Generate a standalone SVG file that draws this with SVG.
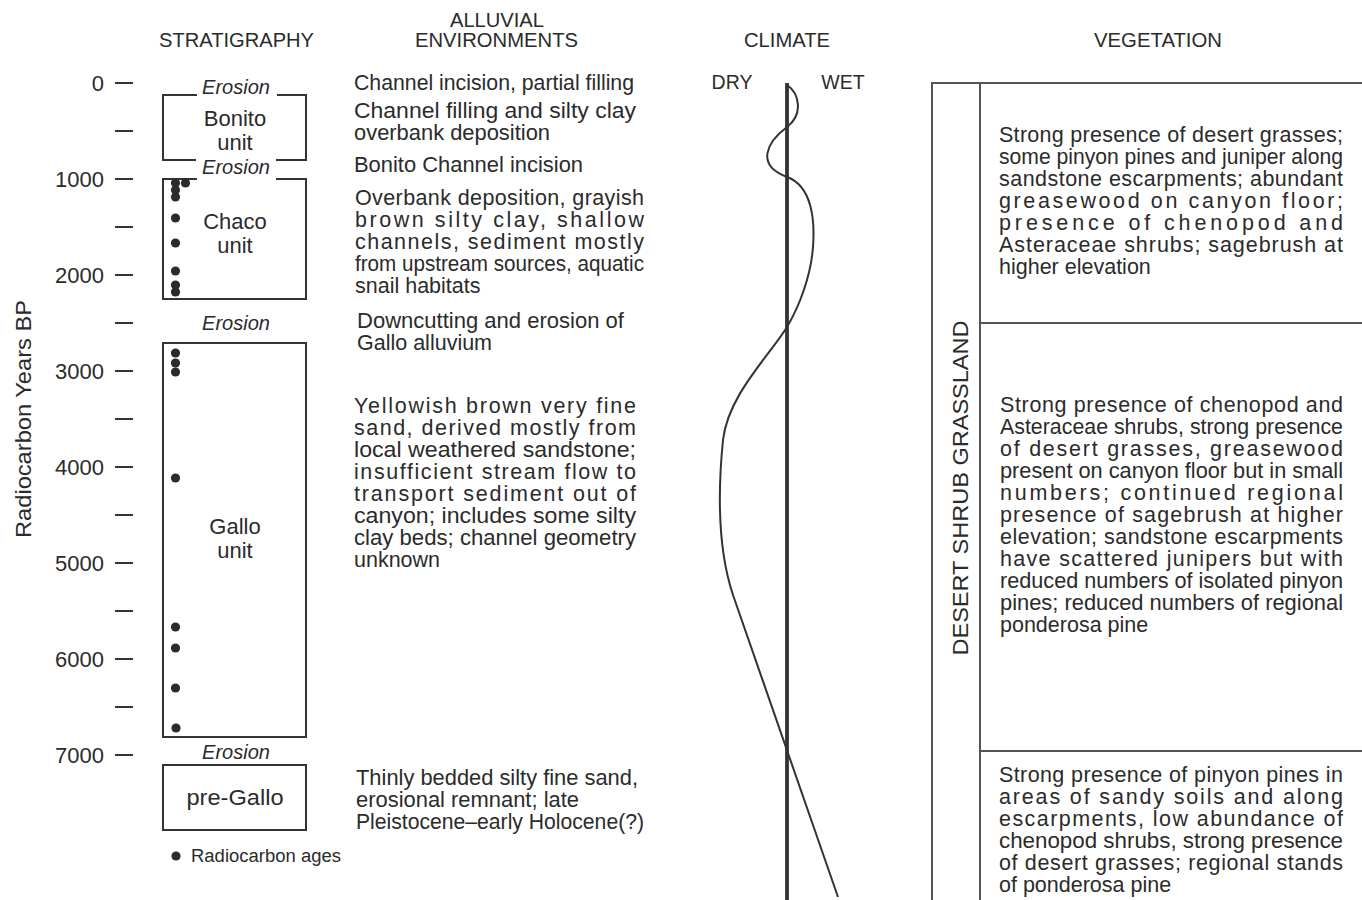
<svg xmlns="http://www.w3.org/2000/svg" width="1362" height="900" viewBox="0 0 1362 900">
<style>
text{font-family:"Liberation Sans",Arial,sans-serif;fill:#2b2b2b}
.hd{font-size:19.5px;text-anchor:middle}
.num{font-size:22px;text-anchor:end}
.body{font-size:21.5px}
.unit{font-size:22px;text-anchor:middle}
.ero{font-size:19.5px;font-style:italic;text-anchor:middle}
.ln{stroke:#333;stroke-width:2;fill:none}
.grid{stroke:#555;stroke-width:2;fill:none}
.dot{fill:#2b2b2b}
</style>
<rect width="1362" height="900" fill="#fff"/>

<g id="headers">
<text class="hd" x="236.5" y="47" textLength="155" lengthAdjust="spacingAndGlyphs">STRATIGRAPHY</text>
<text class="hd" x="497" y="27" textLength="94" lengthAdjust="spacingAndGlyphs">ALLUVIAL</text>
<text class="hd" x="496.5" y="47" textLength="163" lengthAdjust="spacingAndGlyphs">ENVIRONMENTS</text>
<text class="hd" x="787" y="47" textLength="86" lengthAdjust="spacingAndGlyphs">CLIMATE</text>
<text class="hd" x="1158" y="47" textLength="128" lengthAdjust="spacingAndGlyphs">VEGETATION</text>
</g>

<g id="axis">
<text x="31" y="419" transform="rotate(-90 31 419)" style="font-size:22px;text-anchor:middle" textLength="238" lengthAdjust="spacingAndGlyphs">Radiocarbon Years BP</text>
<g class="ln">
<line x1="115" y1="83" x2="133" y2="83"/>
<line x1="115" y1="131" x2="133" y2="131"/>
<line x1="115" y1="179" x2="133" y2="179"/>
<line x1="115" y1="227" x2="133" y2="227"/>
<line x1="115" y1="275" x2="133" y2="275"/>
<line x1="115" y1="323" x2="133" y2="323"/>
<line x1="115" y1="371" x2="133" y2="371"/>
<line x1="115" y1="419" x2="133" y2="419"/>
<line x1="115" y1="467" x2="133" y2="467"/>
<line x1="115" y1="515" x2="133" y2="515"/>
<line x1="115" y1="563" x2="133" y2="563"/>
<line x1="115" y1="611" x2="133" y2="611"/>
<line x1="115" y1="659" x2="133" y2="659"/>
<line x1="115" y1="707" x2="133" y2="707"/>
<line x1="115" y1="755" x2="133" y2="755"/>
</g>
<text class="num" x="104" y="91">0</text>
<text class="num" x="104" y="187">1000</text>
<text class="num" x="104" y="283">2000</text>
<text class="num" x="104" y="379">3000</text>
<text class="num" x="104" y="475">4000</text>
<text class="num" x="104" y="571">5000</text>
<text class="num" x="104" y="667">6000</text>
<text class="num" x="104" y="763">7000</text>
</g>

<g id="bonito">
<path class="ln" d="M197 95 H163 V160 H196 M276 160 H306 V95 H277"/>
<text class="ero" x="236" y="94" textLength="68" lengthAdjust="spacingAndGlyphs">Erosion</text>
<text class="unit" x="235" y="126">Bonito</text>
<text class="unit" x="235" y="150">unit</text>
</g>

<g id="chaco">
<text class="ero" x="236" y="174" textLength="68" lengthAdjust="spacingAndGlyphs">Erosion</text>
<path class="ln" d="M197 179 H163 V299 H306 V179 H276"/>
<text class="unit" x="235" y="229">Chaco</text>
<text class="unit" x="235" y="253">unit</text>
<g class="dot">
<circle cx="175.5" cy="183" r="4.6"/>
<circle cx="185.5" cy="183" r="4.6"/>
<circle cx="175.5" cy="190" r="4.6"/>
<circle cx="175.5" cy="197" r="4.6"/>
<circle cx="175.5" cy="218" r="4.6"/>
<circle cx="175.5" cy="243" r="4.6"/>
<circle cx="175.5" cy="271" r="4.6"/>
<circle cx="175.5" cy="285" r="4.6"/>
<circle cx="175.5" cy="292" r="4.6"/>
</g>
</g>

<g id="gallo">
<text class="ero" x="236" y="330" textLength="68" lengthAdjust="spacingAndGlyphs">Erosion</text>
<rect class="ln" x="163" y="343" width="143" height="394"/>
<text class="unit" x="235" y="534">Gallo</text>
<text class="unit" x="235" y="558">unit</text>
<g class="dot">
<circle cx="175.5" cy="353" r="4.6"/>
<circle cx="175.5" cy="363" r="4.6"/>
<circle cx="175.5" cy="372" r="4.6"/>
<circle cx="175.5" cy="478" r="4.6"/>
<circle cx="175.5" cy="627" r="4.6"/>
<circle cx="175.5" cy="648" r="4.6"/>
<circle cx="175.5" cy="688" r="4.6"/>
<circle cx="176" cy="728" r="4.6"/>
</g>
</g>

<g id="pregallo">
<text class="ero" x="236" y="759" textLength="68" lengthAdjust="spacingAndGlyphs">Erosion</text>
<rect class="ln" x="163" y="765" width="143" height="65"/>
<text class="unit" x="235" y="805" textLength="97" lengthAdjust="spacingAndGlyphs">pre-Gallo</text>
</g>

<g id="legend">
<circle class="dot" cx="176" cy="856" r="4.6"/>
<text x="191" y="862" style="font-size:18px" textLength="150" lengthAdjust="spacingAndGlyphs">Radiocarbon ages</text>
</g>

<g id="alluvial" class="body">
<text class="body" x="354" y="90" textLength="280" lengthAdjust="spacingAndGlyphs">Channel incision, partial filling</text>
<text class="body" x="354" y="118" textLength="282" lengthAdjust="spacingAndGlyphs">Channel filling and silty clay</text>
<text class="body" x="354" y="140" textLength="196" lengthAdjust="spacingAndGlyphs">overbank deposition</text>
<text class="body" x="354" y="172" textLength="229" lengthAdjust="spacingAndGlyphs">Bonito Channel incision</text>
<text class="body" x="355" y="205" textLength="289" lengthAdjust="spacing">Overbank deposition, grayish</text>
<text class="body" x="355" y="227" textLength="289" lengthAdjust="spacing">brown silty clay, shallow</text>
<text class="body" x="355" y="249" textLength="289" lengthAdjust="spacing">channels, sediment mostly</text>
<text class="body" x="355" y="271" textLength="289" lengthAdjust="spacingAndGlyphs">from upstream sources, aquatic</text>
<text class="body" x="355" y="293">snail habitats</text>
<text class="body" x="357" y="328" textLength="267" lengthAdjust="spacingAndGlyphs">Downcutting and erosion of</text>
<text class="body" x="357" y="350">Gallo alluvium</text>
<text class="body" x="354" y="413" textLength="282" lengthAdjust="spacing">Yellowish brown very fine</text>
<text class="body" x="354" y="435" textLength="282" lengthAdjust="spacing">sand, derived mostly from</text>
<text class="body" x="354" y="457" textLength="282" lengthAdjust="spacingAndGlyphs">local weathered sandstone;</text>
<text class="body" x="354" y="479" textLength="282" lengthAdjust="spacing">insufficient stream flow to</text>
<text class="body" x="354" y="501" textLength="282" lengthAdjust="spacing">transport sediment out of</text>
<text class="body" x="354" y="523" textLength="282" lengthAdjust="spacingAndGlyphs">canyon; includes some silty</text>
<text class="body" x="354" y="545" textLength="282" lengthAdjust="spacingAndGlyphs">clay beds; channel geometry</text>
<text class="body" x="354" y="567">unknown</text>
<text class="body" x="356" y="785" textLength="282" lengthAdjust="spacingAndGlyphs">Thinly bedded silty fine sand,</text>
<text class="body" x="356" y="807" textLength="223" lengthAdjust="spacingAndGlyphs">erosional remnant; late</text>
<text class="body" x="356" y="829" textLength="288" lengthAdjust="spacingAndGlyphs">Pleistocene–early Holocene(?)</text>
</g>

<g id="climate">
<text class="hd" x="732" y="89">DRY</text>
<text class="hd" x="843" y="89">WET</text>
<line x1="787" y1="83" x2="787" y2="900" stroke="#333" stroke-width="3.8"/>
<path class="ln" d="M787 85 C799 93 804 114 787 127 C767 142 755 165 787 177 C812 186 815 220 813 247 C811 275 800 305 787 327 C770 355 728 395 723 440 C718 490 718 550 733 595 L838 897"/>
</g>

<g id="vegetation">
<path class="grid" d="M932 900 V83 H1362 M980 83 V900 M980 323 H1362 M980 751 H1362"/>
<text x="968" y="488" transform="rotate(-90 968 488)" style="font-size:22px;text-anchor:middle" textLength="335" lengthAdjust="spacingAndGlyphs">DESERT SHRUB GRASSLAND</text>
<g id="veg1">
<text class="body" x="999" y="142" textLength="344" lengthAdjust="spacing">Strong presence of desert grasses;</text>
<text class="body" x="999" y="164" textLength="344" lengthAdjust="spacingAndGlyphs">some pinyon pines and juniper along</text>
<text class="body" x="999" y="186" textLength="344" lengthAdjust="spacing">sandstone escarpments; abundant</text>
<text class="body" x="999" y="208" textLength="344" lengthAdjust="spacing">greasewood on canyon floor;</text>
<text class="body" x="999" y="230" textLength="344" lengthAdjust="spacing">presence of chenopod and</text>
<text class="body" x="999" y="252" textLength="344" lengthAdjust="spacing">Asteraceae shrubs; sagebrush at</text>
<text class="body" x="999" y="274">higher elevation</text>
</g>
<g id="veg2">
<text class="body" x="1000" y="412" textLength="343" lengthAdjust="spacing">Strong presence of chenopod and</text>
<text class="body" x="1000" y="434" textLength="343" lengthAdjust="spacingAndGlyphs">Asteraceae shrubs, strong presence</text>
<text class="body" x="1000" y="456" textLength="343" lengthAdjust="spacing">of desert grasses, greasewood</text>
<text class="body" x="1000" y="478" textLength="343" lengthAdjust="spacingAndGlyphs">present on canyon floor but in small</text>
<text class="body" x="1000" y="500" textLength="343" lengthAdjust="spacing">numbers; continued regional</text>
<text class="body" x="1000" y="522" textLength="343" lengthAdjust="spacing">presence of sagebrush at higher</text>
<text class="body" x="1000" y="544" textLength="343" lengthAdjust="spacing">elevation; sandstone escarpments</text>
<text class="body" x="1000" y="566" textLength="343" lengthAdjust="spacing">have scattered junipers but with</text>
<text class="body" x="1000" y="588" textLength="343" lengthAdjust="spacingAndGlyphs">reduced numbers of isolated pinyon</text>
<text class="body" x="1000" y="610" textLength="343" lengthAdjust="spacingAndGlyphs">pines; reduced numbers of regional</text>
<text class="body" x="1000" y="632">ponderosa pine</text>
</g>
<g id="veg3">
<text class="body" x="999" y="782" textLength="344" lengthAdjust="spacing">Strong presence of pinyon pines in</text>
<text class="body" x="999" y="804" textLength="344" lengthAdjust="spacing">areas of sandy soils and along</text>
<text class="body" x="999" y="826" textLength="344" lengthAdjust="spacing">escarpments, low abundance of</text>
<text class="body" x="999" y="848" textLength="344" lengthAdjust="spacingAndGlyphs">chenopod shrubs, strong presence</text>
<text class="body" x="999" y="870" textLength="344" lengthAdjust="spacing">of desert grasses;  regional stands</text>
<text class="body" x="999" y="892">of ponderosa pine</text>
</g>
</g>
</svg>
